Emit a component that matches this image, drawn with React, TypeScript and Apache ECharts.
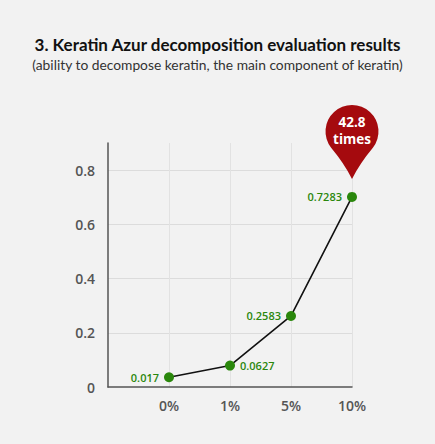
import React, { useEffect, useRef } from "react";
import * as echarts from "echarts";

const TITLE = "3. Keratin Azur decomposition evaluation results";
const SUBTITLE = "(ability to decompose keratin, the main component of keratin)";
const categories = ["0%", "1%", "5%", "10%"];
// vertical positions
const values = [0.036, 0.079, 0.262, 0.701];
// the printed value labels
const valueLabels = ["0.017", "0.0627", "0.2583", "0.7283"];
const labelSides = ["left", "right", "left", "left"];
const yTicks = [0, 0.2, 0.4, 0.6, 0.8];
const PIN_TEXT = "42.8\ntimes";

const FONT = "'Open Sans', 'Noto Sans', sans-serif";
const TITLE_FONT = "Lato, 'Open Sans', sans-serif";

export default function App() {
  const ref = useRef<HTMLDivElement>(null);
  useEffect(() => {
    const chart = echarts.init(ref.current!, null, { renderer: "svg" });
    const lineData = categories.map((c, i) => ({
      value: [i + 1, values[i]],
      label: { position: labelSides[i] },
    }));
    const lastIdx = categories.length - 1;
    chart.setOption({
      animation: false,
      backgroundColor: "#f2f2f2",
      textStyle: { fontFamily: FONT },
      title: {
        text: TITLE,
        subtext: SUBTITLE,
        left: "center",
        top: 31,
        itemGap: 4,
        textStyle: { fontFamily: TITLE_FONT, fontSize: 17, fontWeight: "bold", color: "#111" },
        subtextStyle: { fontFamily: TITLE_FONT, fontSize: 13.8, color: "#333" },
      },
      grid: { left: 108, right: 83, top: 143, bottom: 57, containLabel: false },
      xAxis: {
        type: "value",
        min: 0,
        max: categories.length,
        interval: 1,
        axisLine: { show: true, lineStyle: { color: "#555", width: 1.5 } },
        axisTick: { show: false },
        axisLabel: {
          margin: 11,
          fontSize: 14,
          fontWeight: 600,
          color: "#555",
          fontFamily: FONT,
          formatter: (v: number) => (v >= 1 && v <= categories.length ? categories[v - 1] : ""),
        },
        splitLine: { show: true, showMinLine: false, lineStyle: { color: "#e2e2e2", width: 1 } },
      },
      yAxis: {
        type: "value",
        min: 0,
        max: 0.9,
        interval: 0.2,
        axisLine: { show: true, lineStyle: { color: "#555", width: 1.5 } },
        axisTick: { show: false },
        axisLabel: {
          margin: 13,
          fontSize: 14,
          fontWeight: 600,
          color: "#555",
          fontFamily: FONT,
          showMaxLabel: false,
          formatter: (v: number) => {
            const t = yTicks.find((y) => Math.abs(y - v) < 1e-6);
            if (t === undefined) return "";
            return t === 0 ? "0" : t.toFixed(1);
          },
        },
        splitLine: { show: true, showMinLine: false, showMaxLine: false, lineStyle: { color: "#dcdcdc", width: 1 } },
      },
      series: [
        {
          type: "line",
          data: lineData,
          symbol: "circle",
          symbolSize: 10,
          itemStyle: { color: "#2a870c" },
          lineStyle: { color: "#111", width: 1.6 },
          label: {
            show: true,
            distance: 5,
            color: "#2a870c",
            fontSize: 11,
            fontWeight: 600,
            fontFamily: FONT,
            formatter: (p: any) => valueLabels[p.dataIndex],
          },
          z: 3,
        },
        {
          type: "custom",
          clip: false,
          z: 5,
          data: [[lastIdx + 1, values[lastIdx]]],
          renderItem: (params: any, api: any) => {
            const pt = api.coord([api.value(0), api.value(1)]);
            const cx = pt[0];
            const ty = pt[1] - 18;
            const r = 26.5;
            const cy = ty - 47.5;
            const t = (38 * Math.PI) / 180;
            const sx = cx - r * Math.cos(t);
            const ex = cx + r * Math.cos(t);
            const sy = cy + r * Math.sin(t);
            const d =
              `M ${sx} ${sy} A ${r} ${r} 0 1 1 ${ex} ${sy} ` +
              `Q ${cx + r * 0.3} ${cy + r * 1.2} ${cx} ${ty} ` +
              `Q ${cx - r * 0.3} ${cy + r * 1.2} ${sx} ${sy} Z`;
            return {
              type: "group",
              children: [
                { type: "path", shape: { pathData: d }, style: { fill: "#a50a0e" } },
                {
                  type: "text",
                  x: cx,
                  y: cy - 0.5,
                  style: {
                    text: PIN_TEXT,
                    fill: "#fff",
                    fontSize: 13.5,
                    lineHeight: 17,
                    fontWeight: "bold",
                    fontFamily: FONT,
                    align: "center",
                    verticalAlign: "middle",
                  },
                },
              ],
            };
          },
        },
      ],
    });
    return () => chart.dispose();
  }, []);
  return (
    <div
      ref={ref}
      style={{ position: "fixed", left: 0, top: 0, width: 435, height: 444 }}
    />
  );
}
